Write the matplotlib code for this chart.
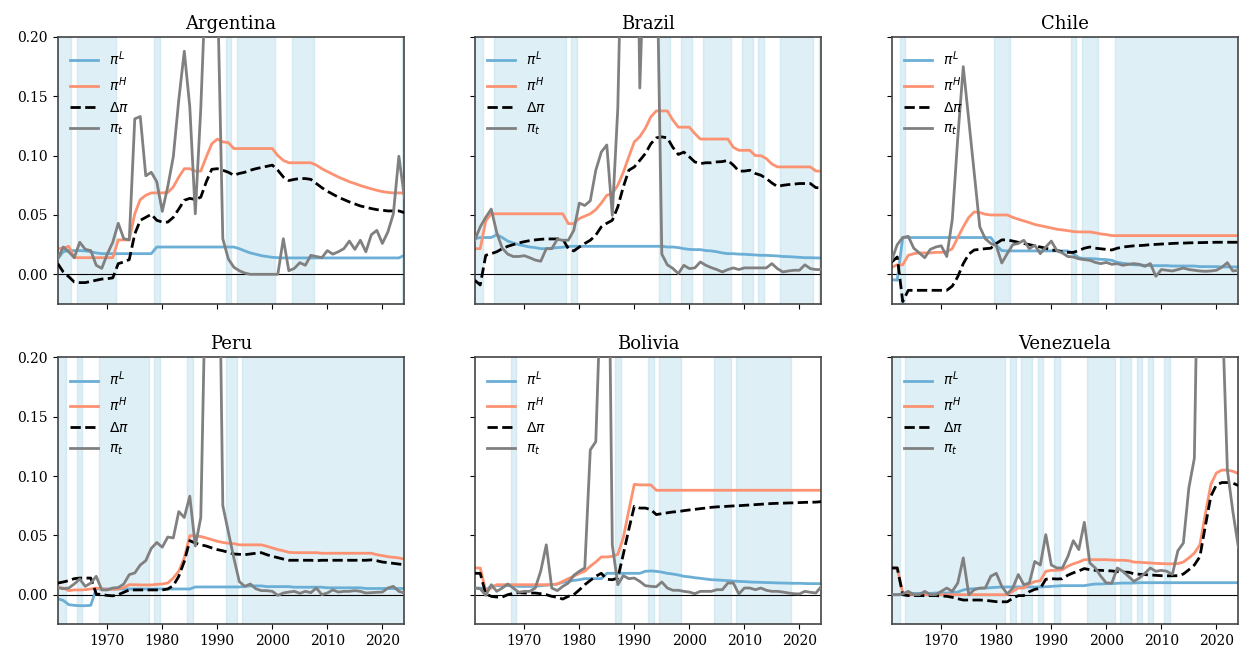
import numpy as np
import matplotlib
matplotlib.use("Agg")
import matplotlib.pyplot as plt

years = list(range(1961, 2025))
countries = ["Argentina", "Brazil", "Chile", "Peru", "Bolivia", "Venezuela"]
labels = [r"$\pi^L$", r"$\pi^H$", r"$\Delta\pi$", r"$\pi_t$"]

# ---------------- Argentina ----------------
arg_piL = [0.013, 0.019, 0.020, 0.020, 0.020, 0.0197, 0.019, 0.018, 0.0174, 0.0174,
           0.0174, 0.0174, 0.0174, 0.0174, 0.0174, 0.0174, 0.0174, 0.0174, 0.023, 0.023,
           0.023, 0.023, 0.023, 0.023, 0.023, 0.023, 0.023, 0.023, 0.023, 0.023,
           0.023, 0.023, 0.023, 0.0216, 0.0197, 0.018, 0.0169, 0.0157, 0.015, 0.0143,
           0.014, 0.0138, 0.0138, 0.0138, 0.0138, 0.0138, 0.0138, 0.0138, 0.0138, 0.0138,
           0.0138, 0.0138, 0.0138, 0.0138, 0.0138, 0.0138, 0.0138, 0.0138, 0.0138, 0.0138,
           0.0138, 0.0138, 0.0138, 0.016]
arg_piH = [0.0216, 0.022, 0.0236, 0.014, 0.014, 0.014, 0.014, 0.014, 0.014, 0.014,
           0.014, 0.029, 0.029, 0.029, 0.051, 0.063, 0.0666, 0.0686, 0.0686, 0.0686,
           0.069, 0.0736, 0.082, 0.089, 0.089, 0.087, 0.087, 0.099, 0.110, 0.114,
           0.1116, 0.111, 0.106, 0.106, 0.106, 0.106, 0.106, 0.106, 0.106, 0.106,
           0.100, 0.096, 0.094, 0.094, 0.094, 0.094, 0.094, 0.092, 0.089, 0.0866,
           0.0843, 0.082, 0.080, 0.078, 0.0765, 0.0748, 0.0734, 0.072, 0.0708, 0.0697,
           0.069, 0.0686, 0.0686, 0.0686]
arg_dpi = [0.009, 0.002, -0.002, -0.0065, -0.007, -0.007, -0.006, -0.005, -0.004, -0.0037,
           -0.003, 0.009, 0.0104, 0.0124, 0.034, 0.0455, 0.048, 0.0506, 0.0455, 0.044,
           0.044, 0.048, 0.055, 0.0624, 0.064, 0.063, 0.065, 0.078, 0.0885, 0.089,
           0.0877, 0.086, 0.0835, 0.085, 0.086, 0.0877, 0.089, 0.090, 0.091, 0.092,
           0.0877, 0.082, 0.079, 0.080, 0.0807, 0.0807, 0.080, 0.0765, 0.073, 0.070,
           0.0675, 0.065, 0.063, 0.061, 0.0593, 0.0576, 0.0565, 0.0554, 0.0545, 0.054,
           0.0534, 0.0534, 0.0534, 0.052]
arg_pit = [0.013, 0.023, 0.019, 0.014, 0.027, 0.021, 0.020, 0.0076, 0.005, 0.017,
           0.027, 0.043, 0.030, 0.029, 0.131, 0.133, 0.083, 0.086, 0.078, 0.053,
           0.074, 0.099, 0.147, 0.188, 0.141, 0.051, 0.14, 0.26, 1.0, 0.25,
           0.03, 0.013, 0.006, 0.003, 0.001, 0.0, 0.0, 0.0, 0.0, 0.0,
           0.0, 0.030, 0.003, 0.005, 0.0098, 0.0076, 0.016, 0.015, 0.014, 0.020,
           0.017, 0.019, 0.0216, 0.028, 0.021, 0.0287, 0.019, 0.0334, 0.037, 0.026,
           0.0357, 0.051, 0.0995, 0.065]
arg_spans = [(1961, 1963), (1965, 1971), (1979, 1979), (1992, 1992), (1994, 2000),
             (2004, 2007), (2024, 2024)]

# ---------------- Brazil ----------------
bra_piL = [0.030, 0.031, 0.031, 0.031, 0.0334, 0.031, 0.028, 0.0264, 0.025, 0.024,
           0.023, 0.0225, 0.0216, 0.0216, 0.022, 0.0225, 0.0228, 0.0236, 0.0236, 0.0236,
           0.0236, 0.0236, 0.0236, 0.0236, 0.0236, 0.0236, 0.0236, 0.0236, 0.0236, 0.0236,
           0.0236, 0.0236, 0.0236, 0.0236, 0.0236, 0.023, 0.023, 0.0225, 0.0216, 0.021,
           0.0208, 0.0208, 0.020, 0.0197, 0.019, 0.018, 0.0174, 0.0174, 0.017, 0.0169,
           0.0166, 0.0163, 0.016, 0.016, 0.0157, 0.0155, 0.015, 0.0149, 0.0146, 0.0143,
           0.014, 0.014, 0.0138, 0.0138]
bra_piH = [0.0216, 0.0216, 0.045, 0.051, 0.051, 0.051, 0.051, 0.051, 0.051, 0.051,
           0.051, 0.051, 0.051, 0.051, 0.051, 0.051, 0.051, 0.0427, 0.0427, 0.047,
           0.049, 0.051, 0.0545, 0.060, 0.0666, 0.068, 0.075, 0.086, 0.099, 0.1116,
           0.116, 0.123, 0.1327, 0.1377, 0.1377, 0.1377, 0.130, 0.124, 0.124, 0.124,
           0.1186, 0.114, 0.114, 0.114, 0.114, 0.114, 0.114, 0.107, 0.1045, 0.1045,
           0.1045, 0.100, 0.100, 0.0975, 0.093, 0.0905, 0.0905, 0.0905, 0.0905, 0.0905,
           0.0905, 0.0905, 0.087, 0.087]
bra_dpi = [-0.005, -0.009, 0.016, 0.0174, 0.019, 0.0216, 0.0236, 0.025, 0.0264, 0.0275,
           0.0284, 0.029, 0.0295, 0.0298, 0.0298, 0.0298, 0.0298, 0.0216, 0.0197, 0.023,
           0.026, 0.0287, 0.033, 0.040, 0.043, 0.0455, 0.0568, 0.0736, 0.0877, 0.0905,
           0.096, 0.1017, 0.110, 0.115, 0.1158, 0.115, 0.107, 0.101, 0.103, 0.099,
           0.0947, 0.0933, 0.094, 0.094, 0.0947, 0.095, 0.096, 0.092, 0.087, 0.087,
           0.0877, 0.085, 0.0835, 0.0807, 0.077, 0.074, 0.075, 0.0756, 0.076, 0.0765,
           0.0765, 0.0765, 0.073, 0.073]
bra_pit = [0.0287, 0.040, 0.048, 0.055, 0.035, 0.022, 0.017, 0.015, 0.015, 0.0157,
           0.014, 0.012, 0.011, 0.0216, 0.0216, 0.0295, 0.0287, 0.0287, 0.037, 0.060,
           0.058, 0.062, 0.0877, 0.103, 0.109, 0.0497, 0.14, 0.35, 0.6, 0.5,
           0.157, 0.3, 0.4, 0.3, 0.017, 0.008, 0.005, 0.0006, 0.0076, 0.0048,
           0.0054, 0.0104, 0.0076, 0.0056, 0.004, 0.002, 0.004, 0.0054, 0.004, 0.0054,
           0.0054, 0.0054, 0.0054, 0.0054, 0.009, 0.0048, 0.002, 0.0028, 0.0034, 0.0034,
           0.008, 0.0048, 0.004, 0.004]
bra_spans = [(1961, 1962), (1965, 1977), (1979, 1979), (1995, 1996), (1999, 2000),
             (2003, 2007), (2010, 2011), (2013, 2013), (2017, 2022), (2024, 2024)]

# ---------------- Chile ----------------
chl_piL = [-0.0045, -0.005, 0.031, 0.031, 0.031, 0.031, 0.031, 0.031, 0.031, 0.031,
           0.031, 0.031, 0.031, 0.031, 0.031, 0.031, 0.031, 0.031, 0.031, 0.0245,
           0.020, 0.0197, 0.0197, 0.0197, 0.0197, 0.0197, 0.0197, 0.0197, 0.0197, 0.0197,
           0.0197, 0.0197, 0.0197, 0.0174, 0.014, 0.0132, 0.0132, 0.013, 0.0126, 0.0124,
           0.0118, 0.010, 0.0093, 0.0087, 0.008, 0.0079, 0.0076, 0.0073, 0.0073, 0.0073,
           0.0073, 0.007, 0.007, 0.007, 0.007, 0.007, 0.0065, 0.0065, 0.0065, 0.0065,
           0.0062, 0.0062, 0.0062, 0.0062]
chl_piH = [0.006, 0.008, 0.008, 0.016, 0.0174, 0.018, 0.018, 0.018, 0.0185, 0.0185,
           0.019, 0.0216, 0.031, 0.040, 0.048, 0.0526, 0.052, 0.0506, 0.050, 0.050,
           0.050, 0.050, 0.048, 0.0464, 0.045, 0.0436, 0.042, 0.041, 0.040, 0.039,
           0.038, 0.0374, 0.0368, 0.036, 0.0357, 0.0357, 0.0357, 0.035, 0.034, 0.0335,
           0.0326, 0.0326, 0.0326, 0.0326, 0.0326, 0.0326, 0.0326, 0.0326, 0.0326, 0.0326,
           0.0326, 0.0326, 0.0326, 0.0326, 0.0326, 0.0326, 0.0326, 0.0326, 0.0326, 0.0326,
           0.0326, 0.0326, 0.0326, 0.0326]
chl_dpi = [0.0104, 0.0146, -0.023, -0.0135, -0.0135, -0.0135, -0.0135, -0.0135, -0.0135, -0.0135,
           -0.0135, -0.010, -0.002, 0.009, 0.017, 0.0205, 0.021, 0.0216, 0.022, 0.026,
           0.029, 0.029, 0.028, 0.027, 0.026, 0.025, 0.024, 0.023, 0.022, 0.0205,
           0.020, 0.019, 0.0185, 0.0185, 0.020, 0.022, 0.023, 0.022, 0.0215, 0.021,
           0.0205, 0.022, 0.023, 0.0235, 0.024, 0.0242, 0.0245, 0.025, 0.0252, 0.0255,
           0.0257, 0.026, 0.0262, 0.0263, 0.0265, 0.0266, 0.0267, 0.0268, 0.0269, 0.027,
           0.027, 0.027, 0.027, 0.027]
chl_pit = [0.012, 0.025, 0.031, 0.032, 0.022, 0.018, 0.014, 0.021, 0.023, 0.024,
           0.015, 0.046, 0.115, 0.175, 0.13, 0.085, 0.040, 0.030, 0.026, 0.024,
           0.0095, 0.0175, 0.025, 0.026, 0.0287, 0.0216, 0.0245, 0.0174, 0.023, 0.028,
           0.020, 0.018, 0.015, 0.0146, 0.013, 0.0124, 0.0118, 0.010, 0.009, 0.010,
           0.0084, 0.009, 0.0076, 0.0084, 0.009, 0.0084, 0.0067, 0.009, -0.0017, 0.004,
           0.0034, 0.0028, 0.004, 0.0053, 0.004, 0.0034, 0.0028, 0.0025, 0.0028, 0.0034,
           0.006, 0.0098, 0.0028, 0.0034]
chl_spans = [(1963, 1963), (1980, 1982), (1994, 1994), (1996, 1998), (2002, 2024)]

# ---------------- Peru ----------------
per_piL = [-0.0034, -0.0048, -0.0084, -0.009, -0.0093, -0.0093, -0.009, 0.005, 0.0048, 0.0048,
           0.0048, 0.0048, 0.0048, 0.0048, 0.0048, 0.0048, 0.0048, 0.0048, 0.0048, 0.0048,
           0.0048, 0.0048, 0.0048, 0.0048, 0.0048, 0.0065, 0.0065, 0.0065, 0.0065, 0.0065,
           0.0065, 0.0065, 0.0065, 0.0065, 0.007, 0.0074, 0.0074, 0.0074, 0.0068, 0.0068,
           0.0068, 0.0068, 0.0068, 0.0063, 0.0063, 0.0063, 0.0063, 0.0063, 0.0063, 0.0058,
           0.0058, 0.0058, 0.0058, 0.0058, 0.0058, 0.0058, 0.0052, 0.0052, 0.0052, 0.0052,
           0.0052, 0.0052, 0.0052, 0.0052]
per_piH = [0.006, 0.0056, 0.0034, 0.004, 0.004, 0.0042, 0.0048, 0.0056, 0.0048, 0.0045,
           0.0045, 0.0048, 0.006, 0.0084, 0.0084, 0.0082, 0.0082, 0.0082, 0.0087, 0.009,
           0.0098, 0.014, 0.0197, 0.031, 0.0497, 0.0497, 0.049, 0.0478, 0.0464, 0.045,
           0.044, 0.0433, 0.043, 0.042, 0.042, 0.042, 0.042, 0.042, 0.0408, 0.0394,
           0.038, 0.037, 0.0357, 0.0354, 0.0354, 0.0354, 0.0354, 0.0354, 0.0349, 0.0349,
           0.0349, 0.0349, 0.0349, 0.0349, 0.0349, 0.0349, 0.0349, 0.0349, 0.0337, 0.0329,
           0.032, 0.0315, 0.031, 0.030]
per_dpi = [0.0098, 0.0107, 0.0118, 0.0135, 0.014, 0.014, 0.014, 0.0006, 0.0, -0.0006,
           -0.001, 0.0, 0.002, 0.004, 0.004, 0.004, 0.004, 0.004, 0.004, 0.004,
           0.0048, 0.0076, 0.0155, 0.028, 0.0455, 0.0435, 0.042, 0.041, 0.0394, 0.038,
           0.037, 0.0357, 0.0343, 0.034, 0.0337, 0.0343, 0.0349, 0.0354, 0.0337, 0.0323,
           0.0312, 0.030, 0.029, 0.029, 0.029, 0.029, 0.029, 0.0286, 0.029, 0.029,
           0.029, 0.029, 0.029, 0.029, 0.029, 0.029, 0.029, 0.0293, 0.0286, 0.0275,
           0.027, 0.0264, 0.0258, 0.0253]
per_pit = [0.006, 0.005, 0.0056, 0.009, 0.0132, 0.007, 0.0098, 0.0155, 0.004, 0.004,
           0.0056, 0.006, 0.009, 0.0169, 0.0183, 0.025, 0.0287, 0.039, 0.044, 0.040,
           0.0486, 0.0478, 0.070, 0.065, 0.083, 0.041, 0.065, 0.3, 0.6, 0.42,
           0.075, 0.053, 0.031, 0.011, 0.007, 0.009, 0.005, 0.0034, 0.0034, 0.0028,
           -0.0006, 0.0014, 0.0022, 0.0028, 0.0011, 0.0028, 0.0017, 0.0056, 0.0, 0.0014,
           0.004, 0.0022, 0.0028, 0.0028, 0.0034, 0.0028, 0.0014, 0.0017, 0.002, 0.0022,
           0.0056, 0.007, 0.0028, 0.0014]
per_spans = [(1961, 1962), (1965, 1965), (1969, 1977), (1979, 1979), (1985, 1985),
             (1992, 1993), (1995, 2024)]

# ---------------- Bolivia ----------------
bol_piL = [0.0056, 0.0056, 0.0042, 0.007, 0.0076, 0.0076, 0.0076, 0.0076, 0.007, 0.007,
           0.007, 0.007, 0.0076, 0.008, 0.0084, 0.009, 0.0104, 0.0112, 0.012, 0.0126,
           0.0135, 0.0135, 0.0135, 0.0135, 0.018, 0.018, 0.018, 0.018, 0.018, 0.018,
           0.018, 0.0197, 0.020, 0.0197, 0.019, 0.018, 0.0174, 0.0166, 0.0155, 0.015,
           0.0143, 0.0138, 0.0132, 0.0126, 0.0124, 0.0121, 0.0118, 0.0115, 0.0112, 0.011,
           0.0107, 0.0105, 0.0104, 0.0102, 0.0101, 0.0099, 0.0098, 0.0097, 0.0096, 0.0096,
           0.0094, 0.0093, 0.0093, 0.0093]
bol_piH = [0.0225, 0.0225, 0.003, 0.0056, 0.0084, 0.0084, 0.0084, 0.0084, 0.0084, 0.0084,
           0.0084, 0.0084, 0.0084, 0.0084, 0.0084, 0.009, 0.0112, 0.0135, 0.0155, 0.018,
           0.0197, 0.024, 0.0275, 0.0318, 0.0318, 0.0323, 0.034, 0.048, 0.071, 0.093,
           0.0925, 0.0925, 0.0925, 0.088, 0.088, 0.088, 0.088, 0.088, 0.088, 0.088,
           0.088, 0.088, 0.088, 0.088, 0.088, 0.088, 0.088, 0.088, 0.088, 0.088,
           0.088, 0.088, 0.088, 0.088, 0.088, 0.088, 0.088, 0.088, 0.088, 0.088,
           0.088, 0.088, 0.088, 0.088]
bol_dpi = [0.018, 0.018, 0.0006, -0.0014, -0.002, -0.002, 0.0, 0.0011, 0.0017, 0.0014,
           0.0014, 0.0014, 0.0008, 0.0, -0.0014, -0.0022, -0.0037, -0.0014, 0.0, 0.004,
           0.0084, 0.012, 0.0155, 0.018, 0.013, 0.0126, 0.014, 0.034, 0.055, 0.0745,
           0.073, 0.073, 0.0717, 0.0675, 0.0683, 0.069, 0.0697, 0.070, 0.0708, 0.0714,
           0.0719, 0.0725, 0.073, 0.0736, 0.074, 0.0742, 0.0745, 0.0748, 0.075, 0.0753,
           0.0756, 0.0759, 0.0762, 0.0765, 0.0768, 0.077, 0.0771, 0.0773, 0.0774, 0.0776,
           0.0778, 0.0779, 0.078, 0.0784]
bol_pit = [0.0056, 0.005, -0.0006, 0.0084, 0.0028, 0.0056, 0.009, 0.0056, 0.002, 0.0028,
           0.0028, 0.0056, 0.020, 0.042, 0.0056, 0.0034, 0.007, 0.0098, 0.0163, 0.0197,
           0.0225, 0.122, 0.129, 0.27, 0.45, 0.042, 0.0084, 0.016, 0.0135, 0.014,
           0.0112, 0.0076, 0.007, 0.0067, 0.0107, 0.0056, 0.0037, 0.0037, 0.0028, 0.0022,
           0.0008, 0.0028, 0.0028, 0.0028, 0.0042, 0.0042, 0.0098, 0.0098, 0.0006, 0.0056,
           0.0056, 0.0042, 0.0056, 0.0037, 0.0028, 0.0028, 0.0022, 0.0014, 0.0008, 0.0006,
           0.0028, 0.002, 0.0014, 0.007]
bol_spans = [(1968, 1968), (1987, 1987), (1993, 1993), (1995, 1998), (2005, 2007),
             (2009, 2018)]

# ---------------- Venezuela ----------------
ven_piL = [0.0, 0.0, 0.0, 0.0006, 0.0011, 0.0011, 0.0011, 0.0011, 0.0014, 0.0014,
           0.0014, 0.0017, 0.0022, 0.004, 0.0048, 0.005, 0.0053, 0.0056, 0.0059, 0.0062,
           0.0065, 0.0065, 0.0065, 0.0065, 0.0065, 0.0065, 0.0065, 0.0065, 0.0067, 0.007,
           0.0073, 0.0076, 0.0076, 0.0076, 0.0076, 0.0076, 0.0084, 0.009, 0.009, 0.0093,
           0.0093, 0.0096, 0.0098, 0.0098, 0.0098, 0.0101, 0.0101, 0.0101, 0.0101, 0.0101,
           0.0101, 0.0101, 0.0101, 0.0101, 0.0101, 0.0101, 0.0101, 0.0101, 0.0101, 0.0101,
           0.0101, 0.0101, 0.0101, 0.0101]
ven_piH = [0.0225, 0.0225, 0.0014, 0.0006, 0.0, 0.0, 0.0, 0.0, 0.0, 0.0,
           0.0, 0.0, 0.0, 0.0, 0.0, 0.0, 0.0, 0.0, 0.0, 0.0,
           0.0, 0.0, 0.0028, 0.0056, 0.0056, 0.009, 0.011, 0.0118, 0.0197, 0.0205,
           0.0205, 0.021, 0.024, 0.026, 0.0275, 0.0295, 0.0295, 0.0295, 0.0295, 0.0295,
           0.0292, 0.029, 0.029, 0.0287, 0.0275, 0.0273, 0.027, 0.0267, 0.0264, 0.0262,
           0.026, 0.026, 0.0262, 0.0275, 0.031, 0.035, 0.042, 0.068, 0.093, 0.1026,
           0.105, 0.105, 0.104, 0.102]
ven_dpi = [0.0225, 0.0225, 0.0, -0.0008, -0.0008, -0.0008, -0.0008, -0.0008, -0.0008, -0.0011,
           -0.0014, -0.0022, -0.0034, -0.0045, -0.0045, -0.0045, -0.0045, -0.0048, -0.0053, -0.0059,
           -0.006, -0.006, -0.003, -0.0008, -0.0008, 0.0025, 0.0045, 0.0053, 0.013, 0.0135,
           0.0132, 0.0134, 0.0164, 0.0184, 0.020, 0.022, 0.021, 0.0205, 0.0205, 0.0202,
           0.020, 0.0194, 0.019, 0.0189, 0.0177, 0.0172, 0.0169, 0.0166, 0.0163, 0.016,
           0.0159, 0.0159, 0.016, 0.0174, 0.021, 0.025, 0.032, 0.058, 0.083, 0.0925,
           0.0945, 0.0945, 0.094, 0.092]
ven_pit = [0.0, 0.0, 0.0006, 0.0028, 0.0, 0.0, 0.0028, 0.0, 0.0, 0.0028,
           0.0056, 0.0028, 0.0098, 0.031, 0.0, 0.0042, 0.0056, 0.0056, 0.0155, 0.018,
           0.007, 0.0006, 0.0056, 0.017, 0.0084, 0.0098, 0.028, 0.025, 0.0506, 0.025,
           0.0225, 0.0225, 0.032, 0.0455, 0.038, 0.061, 0.0267, 0.0225, 0.0155, 0.0098,
           0.0098, 0.0225, 0.0197, 0.0155, 0.0112, 0.014, 0.018, 0.0225, 0.0197, 0.0205,
           0.0197, 0.017, 0.037, 0.0435, 0.090, 0.115, 0.4, 1.5, 1.0, 0.5,
           0.25, 0.105, 0.07, 0.04]
ven_spans = [(1961, 1962), (1964, 1981), (1983, 1983), (1985, 1986), (1988, 1988),
             (1991, 1991), (1997, 2001), (2003, 2004), (2006, 2006), (2008, 2008),
             (2011, 2011)]

panels = [
    (arg_piL, arg_piH, arg_dpi, arg_pit, arg_spans),
    (bra_piL, bra_piH, bra_dpi, bra_pit, bra_spans),
    (chl_piL, chl_piH, chl_dpi, chl_pit, chl_spans),
    (per_piL, per_piH, per_dpi, per_pit, per_spans),
    (bol_piL, bol_piH, bol_dpi, bol_pit, bol_spans),
    (ven_piL, ven_piH, ven_dpi, ven_pit, ven_spans),
]

plt.rcParams["font.family"] = "serif"
plt.rcParams["mathtext.fontset"] = "dejavusans"

fig, axes = plt.subplots(2, 3, figsize=(12.39, 6.49), dpi=100, sharex=True, sharey=True)
fig.subplots_adjust(left=0.0466, right=0.9995, top=0.943, bottom=0.038,
                    wspace=0.203, hspace=0.2)

for ax, name, (piL, piH, dpi_, pit, spans) in zip(axes.flat, countries, panels):
    for s, e in spans:
        ax.axvspan(s - 0.5, e + 0.5, color="lightblue", alpha=0.4, zorder=0)
    ax.axhline(0, color="black", lw=0.8, zorder=1)
    ax.plot(years, piL, color="#6baed6", lw=2, label=labels[0], zorder=2)
    ax.plot(years, piH, color="#fc9272", lw=2, label=labels[1], zorder=2)
    ax.plot(years, dpi_, color="black", lw=2, ls="--", label=labels[2], zorder=3)
    ax.plot(years, pit, color="gray", lw=2, label=labels[3], zorder=4)
    ax.set_title(name, fontsize=13)
    ax.set_xlim(1961, 2024)
    ax.set_ylim(-0.025, 0.2)
    ax.set_yticks([0.0, 0.05, 0.10, 0.15, 0.20])
    ax.set_xticks([1970, 1980, 1990, 2000, 2010, 2020])
    ax.tick_params(labelsize=10)
    for sp in ax.spines.values():
        sp.set_color("#444444")
        sp.set_linewidth(1.2)
    ax.legend(loc="upper left", frameon=False, fontsize=10)

fig.savefig("out.png", dpi=100)
